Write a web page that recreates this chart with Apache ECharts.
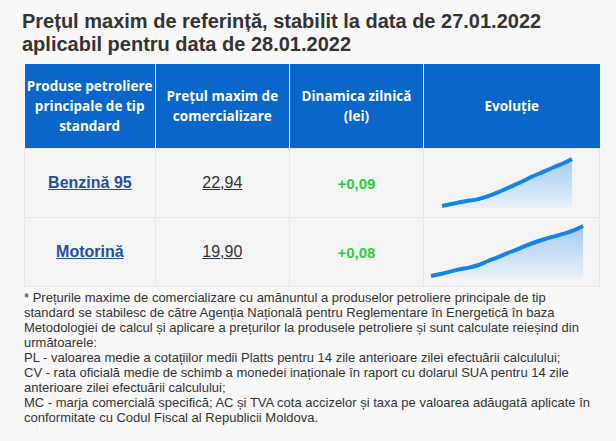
<!DOCTYPE html>
<html><head><meta charset="utf-8">
<script src="https://cdn.jsdelivr.net/npm/echarts@6/dist/echarts.min.js"></script>
<style>
body{margin:0;background:#f8f8f8;font-family:Arial,"Liberation Sans",sans-serif;color:#333;width:616px;height:441px;overflow:hidden}
h1{margin:0;position:absolute;left:22px;top:10px;font-size:20px;line-height:23px;font-weight:bold;color:#333}
table{position:absolute;left:24px;top:64px;border-collapse:collapse;width:576px}
th{background:#0a66c8;color:#fff;font-family:"Open Sans",sans-serif;font-size:13.5px;font-weight:bold;height:84px;padding:0 2px;border-left:1px solid #fff;line-height:20px}
th:first-child{border-left:none}
td{background:#f4f4f4;height:66px;border:1px solid #e6e6e6;text-align:center;font-size:16px}
.p a{color:#23509a;font-weight:bold;text-decoration:underline}
.v{text-decoration:underline;color:#333}
.g{color:#2ecc40;font-weight:bold;font-size:15px}
.note{position:absolute;left:24px;top:290px;width:566px;font-size:13px;line-height:15px;color:#333}
.spark{width:175px;height:66px}
</style></head><body>
<h1>Prețul maxim de referință, stabilit la data de 27.01.2022<br>aplicabil pentru data de 28.01.2022</h1>
<table>
<tr><th style="width:128px">Produse petroliere principale de tip standard</th><th style="width:130px">Prețul maxim de comercializare</th><th style="width:131px">Dinamica zilnică (lei)</th><th>Evoluție</th></tr>
<tr><td class="p"><a>Benzină 95</a></td><td><span class="v">22,94</span></td><td class="g">+0,09</td><td style="padding:0"><div id="s1" class="spark"></div></td></tr>
<tr><td class="p"><a>Motorină</a></td><td><span class="v">19,90</span></td><td class="g">+0,08</td><td style="padding:0"><div id="s2" class="spark"></div></td></tr>
</table>
<div class="note">* Prețurile maxime de comercializare cu amănuntul a produselor petroliere principale de tip standard se stabilesc de către Agenția Națională pentru Reglementare în Energetică în baza Metodologiei de calcul și aplicare a prețurilor la produsele petroliere și sunt calculate reieșind din următoarele:<br>PL - valoarea medie a cotațiilor medii Platts pentru 14 zile anterioare zilei efectuării calculului;<br>CV - rata oficială medie de schimb a monedei inaționale în raport cu dolarul SUA pentru 14 zile anterioare zilei efectuării calculului;<br>MC - marja comercială specifică; AC și TVA cota accizelor și taxa pe valoarea adăugată aplicate în conformitate cu Codul Fiscal al Republicii Moldova.</div>
<script>
const benzina=[21.55,21.60,21.65,21.70,21.73,21.79,21.87,21.97,22.07,22.18,22.29,22.41,22.51,22.62,22.72,22.82,22.94];
const motorina=[18.40,18.46,18.53,18.60,18.65,18.73,18.85,18.96,19.08,19.19,19.31,19.42,19.51,19.59,19.67,19.77,19.90];
function spark(id,data,grid){
  const c=echarts.init(document.getElementById(id));
  c.setOption({animation:false,grid:grid,
    xAxis:{type:'category',show:false,boundaryGap:false,data:data.map((_,i)=>i)},
    yAxis:{type:'value',show:false,min:data[0]-0.06,max:data[data.length-1]},
    series:[{type:'line',data:data,smooth:0.3,symbol:'none',lineStyle:{width:4,color:'#1484e6'},
      areaStyle:{color:new echarts.graphic.LinearGradient(0,0,0,1,[{offset:0,color:'#7fb9ee'},{offset:1,color:'#e3effa'}])}}]});
}
spark('s1',benzina,{left:18,right:27,top:9,bottom:8});
spark('s2',motorina,{left:7,right:16,top:7,bottom:7});
</script>
</body></html>
